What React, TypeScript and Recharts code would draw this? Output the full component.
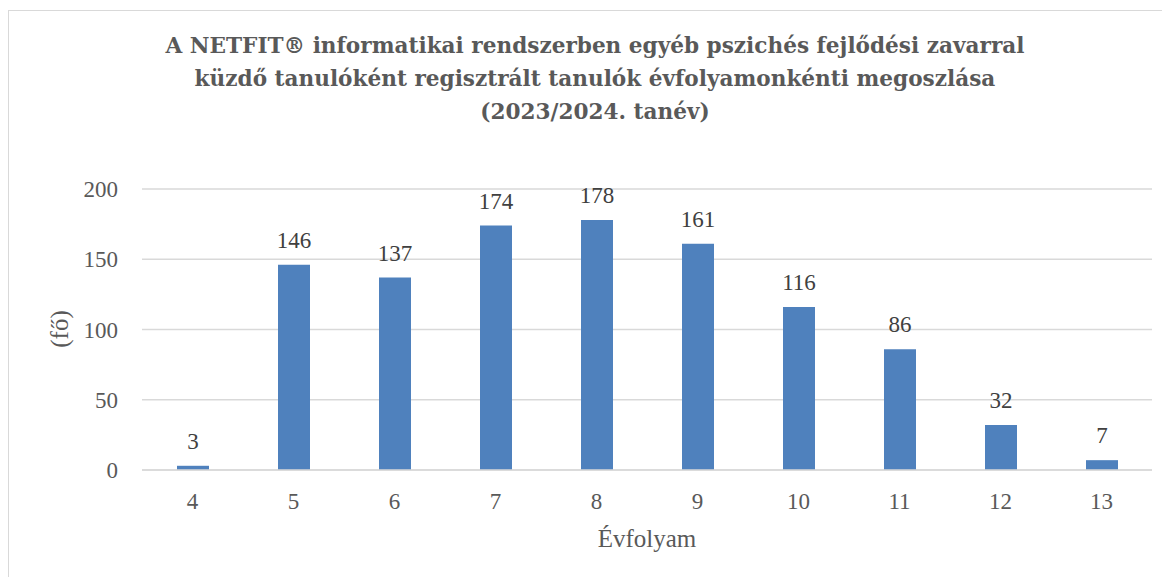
import React from 'react'
import { BarChart, Bar, XAxis, YAxis, CartesianGrid, LabelList } from 'recharts'

const grades = ['4', '5', '6', '7', '8', '9', '10', '11', '12', '13']
const students = [3, 146, 137, 174, 178, 161, 116, 86, 32, 7]
const yTicks = [0, 50, 100, 150, 200]

const titleLines = [
  'A NETFIT® informatikai rendszerben egyéb pszichés fejlődési zavarral',
  'küzdő tanulóként regisztrált tanulók évfolyamonkénti megoszlása',
  '(2023/2024. tanév)',
]

const data = grades.map((g, i) => ({ grade: g, value: students[i] }))

const font = '"Liberation Serif", "DejaVu Serif", serif'
const titleFont = '"DejaVu Serif", serif'

export default function App() {
  return (
    <div
      style={{
        position: 'relative',
        top: 2,
        width: 1162,
        height: 568,
        borderTop: '1px solid #D9D9D9',
        borderLeft: '1px solid #D9D9D9',
        fontFamily: font,
        background: '#fff',
      }}
    >
      <div
        style={{
          position: 'absolute',
          left: 86,
          top: 18,
          width: 1000,
          textAlign: 'center',
          fontFamily: titleFont,
          fontWeight: 'bold',
          fontSize: 21.6,
          lineHeight: '33px',
          color: '#595959',
        }}
      >
        {titleLines.map((t) => (
          <div key={t}>{t}</div>
        ))}
      </div>
      <div
        style={{
          position: 'absolute',
          left: 51,
          top: 318,
          transform: 'translate(-50%, -50%) rotate(-90deg)',
          fontSize: 25,
          color: '#595959',
          whiteSpace: 'nowrap',
        }}
      >
        (fő)
      </div>
      <div
        style={{
          position: 'absolute',
          left: 638,
          top: 528,
          transform: 'translate(-50%, -50%)',
          fontSize: 25,
          color: '#595959',
          whiteSpace: 'nowrap',
        }}
      >
        Évfolyam
      </div>
      <BarChart
        width={1161}
        height={567}
        data={data}
        margin={{ top: 178, right: 18, left: 73, bottom: 48 }}
        style={{ position: 'absolute', left: 0, top: 0 }}
      >
        <CartesianGrid vertical={false} stroke="#D9D9D9" strokeWidth={1.5} />
        <XAxis
          dataKey="grade"
          height={60}
          tickSize={0}
          tickMargin={23}
          axisLine={{ stroke: '#D9D9D9', strokeWidth: 1.5 }}
          tickLine={false}
          tick={{ fill: '#595959', fontSize: 23, fontFamily: font }}
        />
        <YAxis
          width={60}
          domain={[0, 200]}
          ticks={yTicks}
          tickSize={0}
          tickMargin={24}
          axisLine={false}
          tickLine={false}
          tick={{ fill: '#595959', fontSize: 23, fontFamily: font }}
        />
        <Bar dataKey="value" fill="#4F81BD" barSize={32} isAnimationActive={false}>
          <LabelList
            dataKey="value"
            position="top"
            offset={17}
            fill="#404040"
            fontSize={23}
            fontFamily={font}
          />
        </Bar>
      </BarChart>
    </div>
  )
}
